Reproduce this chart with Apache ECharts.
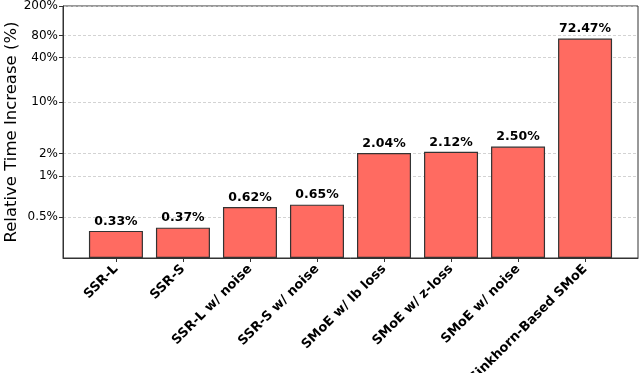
<!DOCTYPE html>
<html>
<head>
<meta charset="utf-8">
<script src="https://cdn.jsdelivr.net/npm/echarts@6/dist/echarts.min.js"></script>
<style>
  html, body { margin: 0; padding: 0; background: #fff; }
  #chart { width: 640px; height: 373px; }
</style>
</head>
<body>
<div id="chart"></div>
<script>
// Relative time increase per routing method, on a symlog y axis (linear below 1%).

const categories = [
  "SSR-L", "SSR-S", "SSR-L w/ noise", "SSR-S w/ noise",
  "SMoE w/ lb loss", "SMoE w/ z-loss", "SMoE w/ noise", "Sinkhorn-Based SMoE",
];
const timeIncrease = [0.33, 0.37, 0.62, 0.65, 2.04, 2.12, 2.50, 72.47];
const yTicks = [0.5, 1, 2, 10, 40, 80, 200];
const yTickLabels = ["0.5%", "1%", "2%", "10%", "40%", "80%", "200%"];
const yMax = 200;

// matplotlib symlog, base 10, linthresh 1, linscale 1
const LIN = 1 / (1 - 1 / 10);
function symlog(v) {
  return v <= 1 ? v * LIN : LIN + Math.log10(v);
}

const tickPos = yTicks.map(symlog);
const catPos = categories.map((c, i) => i);

function labelForPos(pos) {
  // Map a transformed tick position back to its printed label.
  let best = 0;
  tickPos.forEach((p, i) => {
    if (Math.abs(p - pos) < Math.abs(tickPos[best] - pos)) best = i;
  });
  return yTickLabels[best];
}

const chart = echarts.init(document.getElementById("chart"), null, { renderer: "canvas" });

const font = "DejaVu Sans";
const axisColor = "#333";

chart.setOption({
  animation: false,
  backgroundColor: "#fff",
  grid: {
    left: 63, right: 2, top: 6, bottom: 115,
    outerBoundsMode: "none",
    containLabel: false,
    show: true, borderColor: axisColor, borderWidth: 1,
  },
  xAxis: {
    type: "value",
    min: -0.79,
    max: 7.79,
    axisLine: { show: true, onZero: false, lineStyle: { color: axisColor, width: 1 } },
    axisTick: {
      show: true, length: 4, lineStyle: { color: axisColor },
      customValues: catPos,
    },
    axisLabel: {
      customValues: catPos,
      formatter: (v) => categories[Math.round(v)],
      rotate: 45,
      margin: 9,
      fontFamily: font,
      fontWeight: "bold",
      fontSize: 13,
      color: "#000",
    },
    splitLine: { show: false },
  },
  yAxis: {
    type: "value",
    min: 0,
    max: symlog(yMax),
    name: "Relative Time Increase (%)",
    nameLocation: "middle",
    nameGap: 43,
    nameMoveOverlap: false,
    nameTextStyle: { fontFamily: font, fontSize: 16.5, color: "#000" },
    axisLine: { show: true, onZero: false, lineStyle: { color: axisColor, width: 1 } },
    axisTick: {
      show: true, length: 4, lineStyle: { color: axisColor },
      customValues: tickPos,
    },
    axisLabel: {
      customValues: tickPos,
      formatter: labelForPos,
      margin: 5,
      fontFamily: font,
      fontSize: 12,
      color: "#000",
    },
    splitLine: {
      show: true,
      customValues: tickPos,
      lineStyle: { color: "#c8c8c8", type: [3, 2], width: 0.8 },
    },
  },
  series: [
    {
      type: "bar",
      barWidth: 54,
      data: timeIncrease.map((v, i) => [i, symlog(v)]),
      itemStyle: { color: "#ff6b61", borderColor: "#333", borderWidth: 1.2 },
      label: {
        show: true,
        position: "top",
        distance: 3,
        formatter: (p) => timeIncrease[p.dataIndex].toFixed(2) + "%",
        fontFamily: font,
        fontWeight: "bold",
        fontSize: 12.5,
        color: "#000",
      },
    },
  ],
});
</script>
</body>
</html>
